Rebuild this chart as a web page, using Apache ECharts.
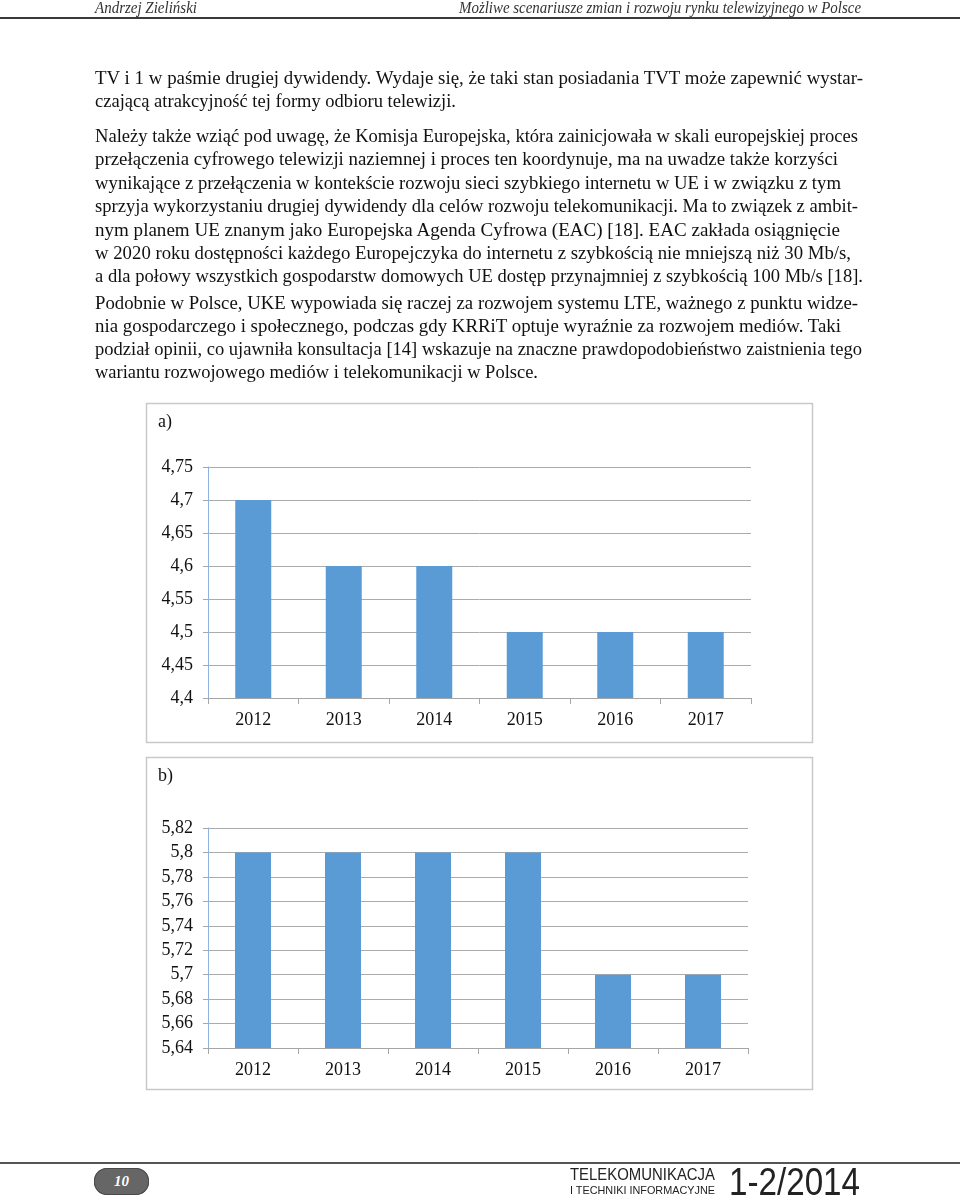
<!DOCTYPE html>
<html><head><meta charset="utf-8">
<script src="https://cdn.jsdelivr.net/npm/echarts@6/dist/echarts.min.js"></script>
<style>
html,body{margin:0;padding:0;background:#fff;}
#page{position:relative;width:960px;height:1198px;overflow:hidden;font-family:"Liberation Serif","Times New Roman",serif;color:#111;}
.ln{position:absolute;white-space:nowrap;transform-origin:0 50%;display:inline-block;}
#chart{position:absolute;left:0;top:0;width:960px;height:1198px;}
.rule{position:absolute;left:0;width:960px;}
#pill{position:absolute;left:94px;top:1168px;width:55px;height:27px;border-radius:13px;background:#666;box-shadow:inset 0 0 0 1px #4a4a4a;color:#fff;font-style:italic;font-weight:bold;font-size:15px;line-height:27px;text-align:center;}
</style></head>
<body><div id="page"><div id="chart"></div></div>
<script>
// ---- chart data ----
const categories = ['2012','2013','2014','2015','2016','2017'];
const valuesA = [4.7, 4.6, 4.6, 4.5, 4.5, 4.5];
const valuesB = [5.8, 5.8, 5.8, 5.8, 5.7, 5.7];
const panelLabels = ['a)', 'b)'];
const axisA = {min: 4.4, max: 4.75, interval: 0.05};
const axisB = {min: 5.64, max: 5.82, interval: 0.02};

// ---- page text ----
const headerLeft = 'Andrzej Zieliński';
const headerRight = 'Możliwe scenariusze zmian i rozwoju rynku telewizyjnego w Polsce';
const bodyLines = [
 'TV i 1 w paśmie drugiej dywidendy. Wydaje się, że taki stan posiadania TVT może zapewnić wystar-',
 'czającą atrakcyjność tej formy odbioru telewizji.',
 'Należy także wziąć pod uwagę, że Komisja Europejska, która zainicjowała w skali europejskiej proces',
 'przełączenia cyfrowego telewizji naziemnej i proces ten koordynuje, ma na uwadze także korzyści',
 'wynikające z przełączenia w kontekście rozwoju sieci szybkiego internetu w UE i w związku z tym',
 'sprzyja wykorzystaniu drugiej dywidendy dla celów rozwoju telekomunikacji. Ma to związek z ambit-',
 'nym planem UE znanym jako Europejska Agenda Cyfrowa (EAC) [18]. EAC zakłada osiągnięcie',
 'w 2020 roku dostępności każdego Europejczyka do internetu z szybkością nie mniejszą niż 30 Mb/s,',
 'a dla połowy wszystkich gospodarstw domowych UE dostęp przynajmniej z szybkością 100 Mb/s [18].',
 'Podobnie w Polsce, UKE wypowiada się raczej za rozwojem systemu LTE, ważnego z punktu widze-',
 'nia gospodarczego i społecznego, podczas gdy KRRiT optuje wyraźnie za rozwojem mediów. Taki',
 'podział opinii, co ujawniła konsultacja [14] wskazuje na znaczne prawdopodobieństwo zaistnienia tego',
 'wariantu rozwojowego mediów i telekomunikacji w Polsce.'
];
const footerTitle = 'TELEKOMUNIKACJA';
const footerSub = 'I TECHNIKI INFORMACYJNE';
const footerIssue = '1-2/2014';
const pageNo = '10';

// layout (positions only)
const lineY = [76,99,134,157,181,204,228,251,274,301,324,347,370];
const lineEnd = [863,456,858,838,841,858,840,851,863,858,841,862,538];

const page = document.getElementById('page');
function addText(txt, left, cy, width, css){
  const s = document.createElement('span');
  s.className = 'ln';
  s.textContent = txt;
  s.style.cssText += css;
  s.style.left = left + 'px';
  page.appendChild(s);
  const r = s.getBoundingClientRect();
  s.style.top = (cy - r.height/2) + 'px';
  if (width) s.style.transform = 'scaleX(' + (width / r.width) + ')';
  return s;
}
function rule(top, h, color){
  const d = document.createElement('div'); d.className='rule';
  d.style.top = top+'px'; d.style.height = h+'px'; d.style.background = color;
  page.appendChild(d);
}
addText(headerLeft, 95, 8, 102, 'font-style:italic;font-size:16px;line-height:16px;color:#333;');
addText(headerRight, 459, 8, 402, 'font-style:italic;font-size:16px;line-height:16px;color:#333;');
rule(17, 2, '#3a3a3a');
bodyLines.forEach((t,i)=>{
  addText(t, 95, lineY[i]+1, lineEnd[i]-95, 'font-size:19px;line-height:19px;');
});
rule(1162, 2, '#555');
const pill = document.createElement('div'); pill.id='pill'; pill.textContent=pageNo; page.appendChild(pill);
const sans = 'font-family:"Liberation Sans Narrow","Liberation Sans",Arial,sans-serif;color:#222;';
addText(footerTitle, 570, 1175, 145, sans+'font-size:16px;line-height:16px;');
addText(footerSub, 570, 1190, 145, sans+'font-size:11px;line-height:11px;');
addText(footerIssue, 729, 1182, 131, sans+'font-size:38px;line-height:38px;');

// ---- chart ----
const FONT = 'Liberation Serif';
const fmt = v => String(Math.round(v*100)/100).replace('.', ',');
function yAx(gi, ax){
  return {type:'value', gridIndex:gi, min:ax.min, max:ax.max, interval:ax.interval,
    axisLine:{show:true, lineStyle:{color:'#8fb3de', width:1}},
    axisTick:{show:true, length:5, lineStyle:{color:'#a6a6a6'}},
    axisLabel:{fontFamily:FONT, fontSize:18, color:'#111', margin:15, formatter:fmt},
    splitLine:{show:true, lineStyle:{color:'#ababab', width:1}}};
}
function xAx(gi){
  return {type:'category', gridIndex:gi, data:categories,
    axisLine:{show:true, lineStyle:{color:'#a6a6a6', width:1}},
    axisTick:{show:true, length:6, alignWithLabel:false, lineStyle:{color:'#a6a6a6'}},
    axisLabel:{fontFamily:FONT, fontSize:18, color:'#111', margin:13}};
}
const chart = echarts.init(document.getElementById('chart'), null, {renderer:'canvas'});
chart.setOption({
  animation:false,
  grid:[
    {left:208, top:467, width:543, height:231},
    {left:208, top:828, width:540, height:220}
  ],
  xAxis:[xAx(0), xAx(1)],
  yAxis:[yAx(0, axisA), yAx(1, axisB)],
  series:[
    {type:'bar', xAxisIndex:0, yAxisIndex:0, data:valuesA, barWidth:36, itemStyle:{color:'#5b9bd5'}},
    {type:'bar', xAxisIndex:1, yAxisIndex:1, data:valuesB, barWidth:36, itemStyle:{color:'#5b9bd5'}}
  ],
  graphic:[
    {type:'rect', shape:{x:146.5, y:403.5, width:666, height:339}, style:{fill:'none', stroke:'#c9c9c9', lineWidth:1.5}, silent:true},
    {type:'rect', shape:{x:146.5, y:757.5, width:666, height:332}, style:{fill:'none', stroke:'#c9c9c9', lineWidth:1.5}, silent:true},
    {type:'text', x:158, y:422, style:{text:panelLabels[0], fill:'#111', fontSize:18, fontFamily:FONT, verticalAlign:'middle'}},
    {type:'text', x:158, y:776, style:{text:panelLabels[1], fill:'#111', fontSize:18, fontFamily:FONT, verticalAlign:'middle'}}
  ]
});
</script>
</body></html>
